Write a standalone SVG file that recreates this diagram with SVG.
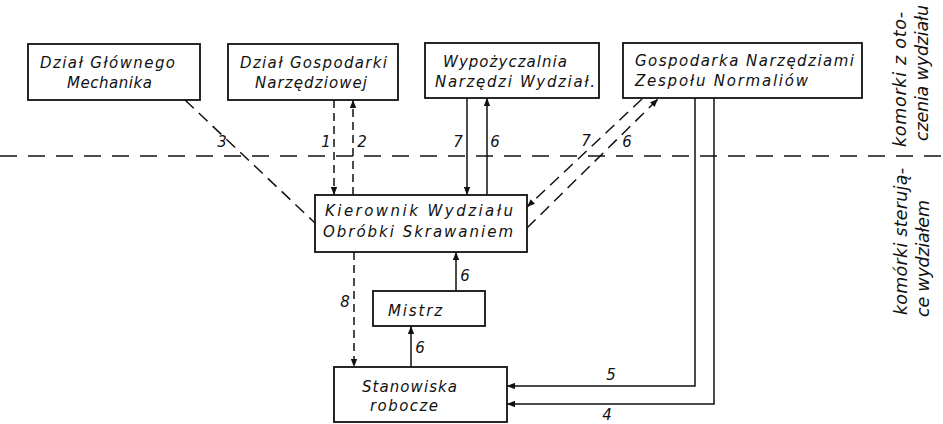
<svg xmlns="http://www.w3.org/2000/svg" width="943" height="424" viewBox="0 0 943 424">
<defs>
<marker id="arr" viewBox="0 0 10 8" refX="10" refY="4" markerWidth="8" markerHeight="6.4" markerUnits="userSpaceOnUse" orient="auto"><path d="M0,0 L10,4 L0,8 z" fill="#111"/></marker>
</defs>
<style>
.box{fill:#fff;stroke:#111;stroke-width:1.8}
.t{font-family:"DejaVu Sans","Liberation Sans",sans-serif;font-style:oblique;font-size:15px;fill:#111}
.v{font-family:"DejaVu Sans","Liberation Sans",sans-serif;font-style:oblique;font-size:17.5px;fill:#111}
.lbl{font-family:"DejaVu Sans","Liberation Sans",sans-serif;font-style:oblique;font-size:15px;fill:#111;text-anchor:middle}
.s{fill:none;stroke:#111;stroke-width:1.5}
.d{stroke-dasharray:8 5}
.dd{stroke-dasharray:12 7}
.div{stroke-dasharray:17 11}
</style>
<rect width="943" height="424" fill="#fff"/>
<g id="connectors">
<path class="s div" d="M0,156 H943"/>
<path class="s dd" d="M185,100 L315,223"/>
<path class="s d" d="M334,100 V195" marker-end="url(#arr)"/>
<path class="s d" d="M353,195 V100" marker-end="url(#arr)"/>
<path class="s" d="M467,98 V195" marker-end="url(#arr)"/>
<path class="s" d="M487,195 V98" marker-end="url(#arr)"/>
<path class="s dd" d="M642,99 L527,207" marker-end="url(#arr)"/>
<path class="s dd" d="M527,228 L658,99" marker-end="url(#arr)"/>
<path class="s" d="M695,98 V386 H507" marker-end="url(#arr)"/>
<path class="s" d="M714,98 V404 H507" marker-end="url(#arr)"/>
<path class="s d" d="M354,252 V367" marker-end="url(#arr)"/>
<path class="s" d="M456,291 V252" marker-end="url(#arr)"/>
<path class="s" d="M411,367 V326" marker-end="url(#arr)"/>
<text class="lbl" x="222" y="147">3</text>
<text class="lbl" x="326" y="147">1</text>
<text class="lbl" x="362" y="147">2</text>
<text class="lbl" x="458" y="147">7</text>
<text class="lbl" x="495" y="147">6</text>
<text class="lbl" x="586" y="146">7</text>
<text class="lbl" x="627" y="147">6</text>
<text class="lbl" x="611" y="380">5</text>
<text class="lbl" x="607" y="420">4</text>
<text class="lbl" x="345" y="307">8</text>
<text class="lbl" x="465" y="281">6</text>
<text class="lbl" x="420" y="353">6</text>
</g>
<g id="dzial-glownego-mechanika">
<rect class="box" x="28" y="44" width="172" height="56"/>
<text class="t" x="40" y="68" textLength="135" lengthAdjust="spacing">Dział Głównego</text>
<text class="t" x="67" y="88" textLength="85" lengthAdjust="spacing">Mechanika</text>
</g>
<g id="dzial-gospodarki-narzedziowej">
<rect class="box" x="228" y="44" width="170" height="56"/>
<text class="t" x="240" y="68" textLength="147" lengthAdjust="spacing">Dział Gospodarki</text>
<text class="t" x="255" y="88" textLength="112" lengthAdjust="spacing">Narzędziowej</text>
</g>
<g id="wypozyczalnia">
<rect class="box" x="425" y="43" width="174" height="55"/>
<text class="t" x="443" y="67" textLength="124" lengthAdjust="spacing">Wypożyczalnia</text>
<text class="t" x="435" y="87" textLength="160" lengthAdjust="spacing">Narzędzi Wydział.</text>
</g>
<g id="gospodarka-narzedziami">
<rect class="box" x="623" y="43" width="239" height="55"/>
<text class="t" x="635" y="66" textLength="219" lengthAdjust="spacing">Gospodarka Narzędziami</text>
<text class="t" x="635" y="86" textLength="173" lengthAdjust="spacing">Zespołu Normaliów</text>
</g>
<g id="kierownik">
<rect class="box" x="315" y="195" width="212" height="57"/>
<text class="t" x="325" y="216" textLength="188" lengthAdjust="spacing">Kierownik Wydziału</text>
<text class="t" x="323" y="237" textLength="190" lengthAdjust="spacing">Obróbki Skrawaniem</text>
</g>
<g id="mistrz">
<rect class="box" x="373" y="291" width="112" height="35"/>
<text class="t" x="388" y="316" textLength="54" lengthAdjust="spacing">Mistrz</text>
</g>
<g id="stanowiska">
<rect class="box" x="334" y="367" width="173" height="55"/>
<text class="t" x="362" y="392" textLength="95" lengthAdjust="spacing">Stanowiska</text>
<text class="t" x="370" y="411" textLength="68" lengthAdjust="spacing">robocze</text>
</g>
<g id="side-labels">
<text class="v" transform="translate(906,147) rotate(-90)" textLength="135" lengthAdjust="spacing">komorki z oto-</text>
<text class="v" transform="translate(928,141) rotate(-90)" textLength="136" lengthAdjust="spacing">czenia wydziału</text>
<text class="v" transform="translate(907,315) rotate(-90)" textLength="147" lengthAdjust="spacing">komórki sterują-</text>
<text class="v" transform="translate(929,317) rotate(-90)" textLength="117" lengthAdjust="spacing">ce wydziałem</text>
</g>
</svg>
